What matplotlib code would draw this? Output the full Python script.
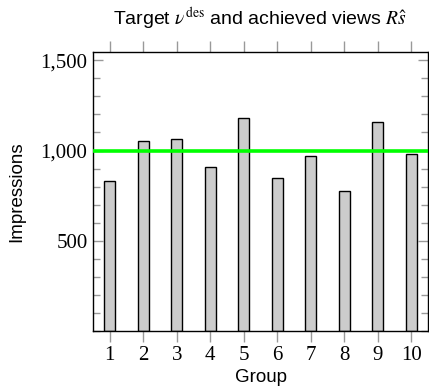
import matplotlib.pyplot as plt
import matplotlib.ticker as mticker
import numpy as np

plt.rcParams['mathtext.fontset'] = 'stix'

# data
groups = [1, 2, 3, 4, 5, 6, 7, 8, 9, 10]
impressions = [832, 1053, 1065, 910, 1182, 849, 971, 773, 1160, 982]
target = 1000

fig = plt.figure(figsize=(4.29, 3.89), dpi=100)
ax = fig.add_axes([0.2168, 0.149, 0.781, 0.717])

ax.bar(groups, impressions, width=0.33, color='#cccccc', edgecolor='black', linewidth=1.0, zorder=2)
ax.axhline(target, color='#00ff00', linewidth=2.6, zorder=3)

ax.set_xlim(0.5, 10.5)
ax.set_ylim(0, 1545)
ax.set_xticks(groups)
ax.set_yticks([500, 1000, 1500])
ax.yaxis.set_minor_locator(mticker.MultipleLocator(100))
ax.yaxis.set_major_formatter(mticker.FuncFormatter(lambda v, p: f'{int(v):,}'))

ax.tick_params(axis='x', which='both', direction='out', length=8, width=1, color='#999999',
               top=True, labeltop=False, pad=3)
ax.tick_params(axis='y', which='major', direction='in', length=7, width=1, color='#999999',
               right=True, pad=4)
ax.tick_params(axis='y', which='minor', direction='in', length=5, width=1, color='#999999',
               right=True)
for lab in ax.get_xticklabels() + ax.get_yticklabels():
    lab.set_fontfamily('Liberation Serif')
    lab.set_fontsize(15)

for s in ax.spines.values():
    s.set_linewidth(1.0)

ax.set_xlabel('Group', fontfamily='Liberation Sans', fontsize=13.5, labelpad=3)
ax.set_ylabel('Impressions', fontfamily='Liberation Sans', fontsize=13.5, labelpad=11)
ax.set_title(r'Target $\nu^{\rm des}$ and achieved views $R\hat{s}$',
             fontfamily='Liberation Sans', fontsize=14, pad=19)

fig.savefig('out.png', dpi=100)
